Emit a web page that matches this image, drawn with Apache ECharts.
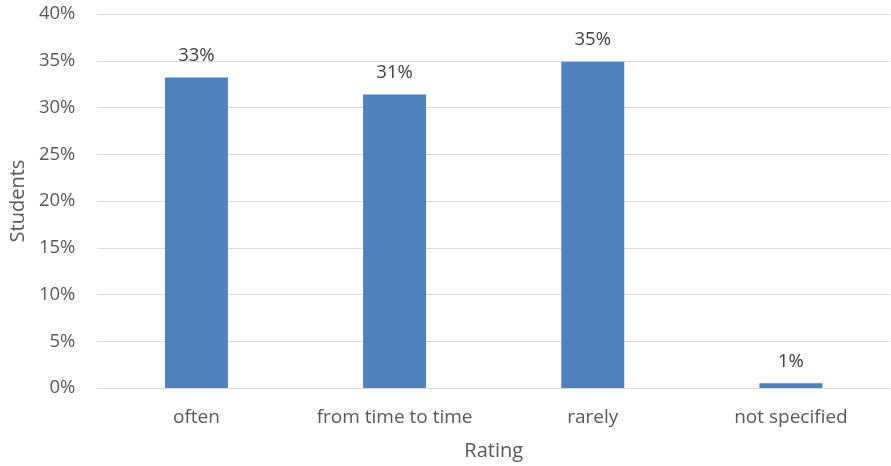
<!DOCTYPE html>
<html><head><meta charset="utf-8">
<script src="https://cdn.jsdelivr.net/npm/echarts@6/dist/echarts.min.js"></script>
<style>html,body{margin:0;padding:0;background:#fff;}#c{width:891px;height:466px;}</style>
</head><body><div id="c"></div>
<script>
const categories = ['often', 'from time to time', 'rarely', 'not specified'];
const values = [33.2, 31.4, 34.9, 0.5];
const valueLabels = ['33%', '31%', '35%', '1%'];
const yTicks = [0, 5, 10, 15, 20, 25, 30, 35, 40];

const font = '"Open Sans", "Liberation Sans", sans-serif';
const chart = echarts.init(document.getElementById('c'), null, {renderer: 'canvas'});
chart.setOption({
  animation: false,
  grid: {left: 95, right: 1, top: 14, bottom: 78, containLabel: false},
  xAxis: {
    type: 'category', data: categories,
    name: 'Rating', nameLocation: 'middle', nameGap: 53,
    nameTextStyle: {color: '#595959', fontSize: 20, fontFamily: font},
    axisLine: {lineStyle: {color: '#d9d9d9', width: 1}},
    axisTick: {show: false},
    axisLabel: {color: '#595959', fontSize: 19, fontFamily: font, margin: 20, interval: 0, hideOverlap: false}
  },
  yAxis: {
    type: 'value', min: yTicks[0], max: yTicks[yTicks.length - 1], interval: 5,
    name: 'Students', nameLocation: 'middle', nameGap: 69, nameRotate: 90,
    nameTextStyle: {color: '#595959', fontSize: 20, fontFamily: font},
    axisLine: {show: false}, axisTick: {show: false},
    splitLine: {lineStyle: {color: '#d9d9d9', width: 1}},
    axisLabel: {color: '#595959', fontSize: 18.5, fontFamily: font, margin: 22,
      formatter: v => v + '%'}
  },
  series: [{
    type: 'bar', data: values, barWidth: 63,
    itemStyle: {color: '#4f81bd'},
    label: {show: true, position: 'top', distance: 12, color: '#404040', fontSize: 18.5, fontFamily: font,
      formatter: p => valueLabels[p.dataIndex]}
  }]
});
</script></body></html>
